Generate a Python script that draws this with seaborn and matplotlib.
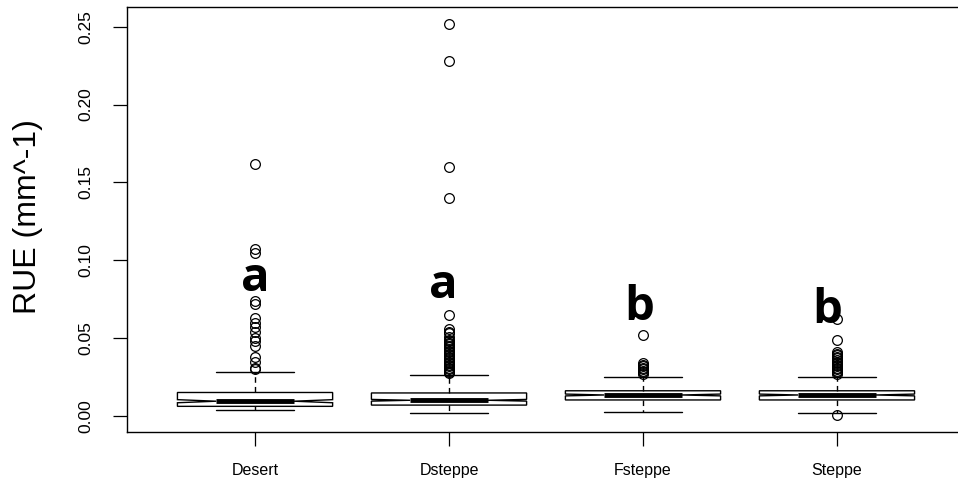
import numpy as np
import pandas as pd
import matplotlib
matplotlib.use("Agg")
import matplotlib.pyplot as plt
import seaborn as sns

# ── Data ──────────────────────────────────────────────────────────
groups   = ["Desert", "Dsteppe", "Fsteppe", "Steppe"]
whisk_lo = [0.0039, 0.0017, 0.0024, 0.0017]
q1       = [0.0062, 0.0070, 0.0103, 0.0103]
medians  = [0.0095, 0.0101, 0.0135, 0.0135]
q3       = [0.0151, 0.0148, 0.0162, 0.0162]
whisk_hi = [0.0284, 0.0264, 0.0250, 0.0250]
n_block  = [60, 150, 80, 80]   # rough count per quartile block (sets notch size)

out_desert = [0.162, 0.107, 0.105, 0.074, 0.072, 0.063, 0.060, 0.057,
              0.054, 0.050, 0.048, 0.045, 0.038, 0.035, 0.031, 0.030]
out_dsteppe = [0.252, 0.228, 0.160, 0.140, 0.065, 0.056, 0.054, 0.053,
               0.051, 0.049, 0.048, 0.047, 0.046, 0.045, 0.044, 0.043,
               0.042, 0.041, 0.040, 0.039, 0.038, 0.037, 0.036, 0.035,
               0.034, 0.033, 0.032, 0.031, 0.030, 0.029, 0.028, 0.0275]
out_fsteppe = [0.052, 0.034, 0.033, 0.032, 0.031, 0.030, 0.029, 0.028, 0.027]
out_steppe = [0.062, 0.049, 0.041, 0.040, 0.039, 0.038, 0.037, 0.036,
              0.035, 0.034, 0.033, 0.032, 0.031, 0.030, 0.029, 0.028,
              0.027, 0.0006]
outliers = [out_desert, out_dsteppe, out_fsteppe, out_steppe]

letters  = ["a", "a", "b", "b"]
letter_y = [0.080, 0.076, 0.0616, 0.060]
letter_dx = [0.0, -0.03, -0.02, -0.05]   # small nudges off the tick

# ── Long table rebuilt from the box summaries ─────────────────────
rows = []
for i, g in enumerate(groups):
    n = n_block[i]
    vals = ([whisk_lo[i]] + [q1[i]] * n + [medians[i]] * n + [q3[i]] * n
            + [whisk_hi[i]] + outliers[i])
    rows += [(g, v) for v in vals]
df = pd.DataFrame(rows, columns=["biome", "RUE"])

# ── Plot ──────────────────────────────────────────────────────────
sns.set_style("white")
plt.rcParams["font.family"] = ["Liberation Sans", "DejaVu Sans"]
plt.rcParams["text.color"] = "black"
plt.rcParams["xtick.color"] = "black"
plt.rcParams["ytick.color"] = "black"

fig = plt.figure(figsize=(9.58, 4.92), dpi=100)
ax = fig.add_axes([127 / 958, 60 / 492, 838 / 958, 425 / 492])

sns.boxplot(data=df, x="biome", y="RUE", order=groups, color="white",
            linecolor="black", linewidth=1, width=0.8, fliersize=7,
            whis=1.5, notch=True, ax=ax,
            medianprops=dict(linewidth=3.5, solid_capstyle="butt"),
            whiskerprops=dict(linestyle=(0, (4, 3))),
            flierprops=dict(marker="o", markerfacecolor="none",
                            markeredgecolor="black", markeredgewidth=0.9))

for i, (lab, yv) in enumerate(zip(letters, letter_y)):
    ax.text(i + letter_dx[i], yv, lab, ha="center", va="baseline", fontsize=34,
            fontweight="bold", color="black", family=["Open Sans", "DejaVu Sans"])

ax.set_xlim(-0.66, 3.66)
ax.set_ylim(-0.01028, 0.2627)
ax.set_yticks([0, 0.05, 0.10, 0.15, 0.20, 0.25])
ax.set_yticklabels(["0.00", "0.05", "0.10", "0.15", "0.20", "0.25"],
                   rotation=90, va="center")
ax.tick_params(axis="both", length=10, width=0.9, direction="out",
               color="black", labelcolor="black", left=True, bottom=True)
ax.tick_params(axis="y", labelsize=12.5, pad=14)
ax.tick_params(axis="x", labelsize=11.5, pad=12)

ax.set_xlabel("")
ax.set_ylabel("RUE (mm^-1)", fontsize=23, va="center", color="black")
ax.yaxis.set_label_coords(-0.1187, 0.506)

for s in ax.spines.values():
    s.set_visible(True)
    s.set_color("black")
    s.set_linewidth(1)
ax.spines["right"].set_visible(False)

fig.savefig("out.png", dpi=100)
